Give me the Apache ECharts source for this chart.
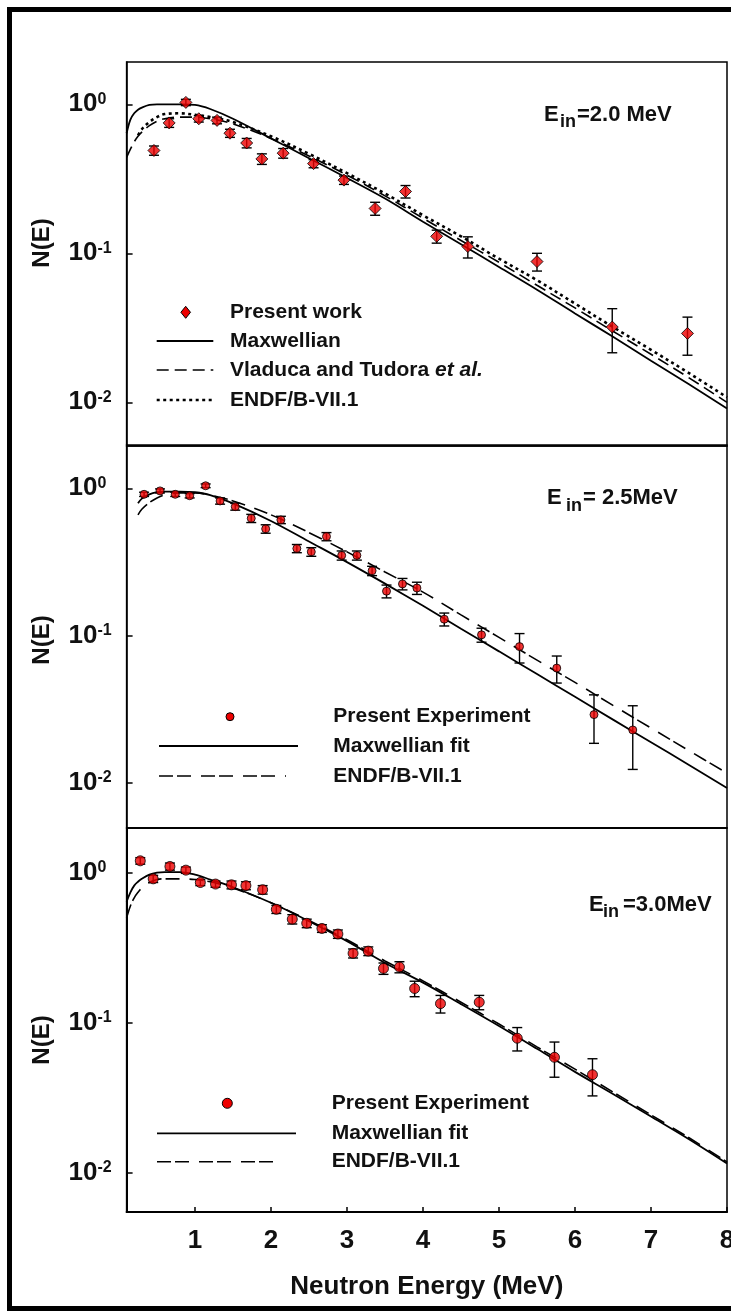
<!DOCTYPE html>
<html>
<head>
<meta charset="utf-8">
<script src="https://cdn.jsdelivr.net/npm/echarts@6/dist/echarts.min.js"></script>
<style>
html, body { margin: 0; padding: 0; background: #fff; }
#chart { width: 731px; height: 1311px; }
</style>
</head>
<body>
<div id="chart"></div>
<script>
// ---- Measured spectra (E in MeV, N(E) normalised) ----
// Ein = 2.0 MeV
const energies20 = [0.46, 0.66, 0.88, 1.05, 1.29, 1.46, 1.68, 1.88, 2.16, 2.56, 2.96, 3.37, 3.77, 4.18, 4.59, 5.50, 6.49, 7.48];
const values20   = [0.49, 0.75, 1.03, 0.80, 0.78, 0.64, 0.55, 0.43, 0.47, 0.40, 0.31, 0.20, 0.26, 0.13, 0.111, 0.088, 0.032, 0.029];
const errors20   = [0.035, 0.05, 0.05, 0.04, 0.04, 0.04, 0.04, 0.035, 0.035, 0.025, 0.02, 0.02, 0.025, 0.013, 0.018, 0.012, 0.0105, 0.0083];

// Ein = 2.5 MeV
const energies25 = [0.33, 0.54, 0.74, 0.93, 1.14, 1.33, 1.53, 1.74, 1.93, 2.13, 2.34, 2.53, 2.73, 2.93, 3.13, 3.33, 3.52, 3.73, 3.92, 4.28, 4.77, 5.27, 5.76, 6.25, 6.76];
const values25   = [0.91, 0.96, 0.91, 0.89, 1.04, 0.82, 0.75, 0.625, 0.53, 0.61, 0.39, 0.37, 0.47, 0.35, 0.35, 0.275, 0.20, 0.224, 0.21, 0.129, 0.101, 0.084, 0.060, 0.029, 0.0228];
const errors25   = [0.03, 0.03, 0.03, 0.03, 0.03, 0.04, 0.04, 0.04, 0.035, 0.035, 0.025, 0.025, 0.03, 0.025, 0.025, 0.02, 0.02, 0.02, 0.02, 0.013, 0.011, 0.019, 0.0125, 0.0105, 0.0105];

// Ein = 3.0 MeV
const energies30 = [0.28, 0.45, 0.67, 0.88, 1.07, 1.27, 1.48, 1.67, 1.89, 2.07, 2.28, 2.47, 2.67, 2.88, 3.08, 3.28, 3.48, 3.69, 3.89, 4.23, 4.74, 5.24, 5.73, 6.23];
const values30   = [1.20, 0.91, 1.10, 1.04, 0.86, 0.84, 0.83, 0.82, 0.77, 0.57, 0.49, 0.46, 0.425, 0.39, 0.29, 0.30, 0.23, 0.235, 0.169, 0.134, 0.137, 0.0788, 0.0588, 0.045];
const errors30   = [0.06, 0.05, 0.06, 0.05, 0.04, 0.04, 0.05, 0.05, 0.05, 0.035, 0.035, 0.03, 0.025, 0.025, 0.02, 0.02, 0.02, 0.02, 0.02, 0.018, 0.015, 0.014, 0.0155, 0.0125];

// ---- Model spectra tabulated on a common energy grid (null = not tabulated) ----
const curveEnergies = [0.1, 0.15, 0.2, 0.25, 0.3, 0.4, 0.5, 0.6, 0.8, 1.0, 1.2, 1.5, 2, 2.5, 3, 3.5, 4, 4.5, 5, 5.5, 6, 6.5, 7, 7.5, 8];

const maxwell20 = [0.64, 0.79, 0.87, 0.92, 0.95, 0.99, 1.0, 1.0, 1.0, 0.99, 0.93, 0.80, 0.59, 0.435, 0.32, 0.233, 0.163, 0.115, 0.081, 0.057, 0.0395, 0.0275, 0.019, 0.0132, 0.0091];
const vladuca20 = [0.44, 0.50, 0.56, 0.61, 0.65, 0.72, 0.77, 0.80, 0.82, 0.82, 0.80, 0.74, 0.59, 0.45, 0.335, 0.243, 0.172, 0.122, 0.087, 0.061, 0.043, 0.030, 0.021, 0.0146, 0.0100];
const endf20    = [null, null, null, 0.62, 0.68, 0.76, 0.82, 0.86, 0.87, 0.85, 0.82, 0.76, 0.61, 0.465, 0.345, 0.252, 0.18, 0.13, 0.092, 0.066, 0.046, 0.032, 0.0225, 0.0157, 0.0108];

const maxwell25 = [null, null, null, 0.79, 0.85, 0.91, 0.94, 0.95, 0.95, 0.94, 0.90, 0.79, 0.60, 0.435, 0.315, 0.225, 0.159, 0.111, 0.078, 0.0547, 0.0383, 0.0268, 0.0188, 0.0132, 0.0092];
const endf25    = [null, null, null, 0.66, 0.72, 0.80, 0.86, 0.90, 0.93, 0.93, 0.90, 0.82, 0.66, 0.50, 0.37, 0.27, 0.197, 0.138, 0.097, 0.068, 0.048, 0.0335, 0.0235, 0.0165, 0.0116];

const maxwell30 = [0.64, 0.74, 0.82, 0.87, 0.91, 0.97, 1.0, 1.01, 1.01, 0.97, 0.90, 0.80, 0.63, 0.475, 0.35, 0.25, 0.185, 0.133, 0.095, 0.067, 0.047, 0.0335, 0.0237, 0.0167, 0.0115];
const endf30    = [0.50, 0.60, 0.68, 0.74, 0.79, 0.86, 0.90, 0.91, 0.91, 0.90, 0.87, 0.79, 0.63, 0.48, 0.357, 0.258, 0.19, 0.137, 0.098, 0.069, 0.049, 0.0345, 0.0243, 0.0171, 0.0118];

// ---- Axis ticks and labels ----
const xTicks = [1, 2, 3, 4, 5, 6, 7, 8];
const yTicks = [0.01, 0.1, 1];

const FONT = '"Liberation Sans", Arial, Helvetica, sans-serif';
const INK = '#111';
const RED = '#ee0000';

// line styles shared by curves and their legend keys
const SOLID = { width: 1.8, dash: null };
const VT_DASH = { width: 1.6, dash: [12, 6] };
const ENDF_DOT = { width: 2.6, dash: [3, 3.5] };
const ENDF_DASH = { width: 1.6, dash: [14, 4, 14, 10] };

function pairs(xs, ys) {
  const out = [];
  xs.forEach((x, i) => { if (ys[i] != null) out.push([x, ys[i]]); });
  return out;
}
function barData(xs, ys, es) {
  return xs.map((x, i) => [x, ys[i] - es[i], ys[i] + es[i]]);
}
function renderErrorBar(params, api) {
  const x = api.value(0);
  const top = api.coord([x, api.value(2)]);
  const bot = api.coord([x, api.value(1)]);
  const cap = 5;
  const style = { stroke: '#000', lineWidth: 1.4, fill: null };
  return {
    type: 'group',
    children: [
      { type: 'line', shape: { x1: top[0], y1: top[1], x2: bot[0], y2: bot[1] }, style: style },
      { type: 'line', shape: { x1: top[0] - cap, y1: top[1], x2: top[0] + cap, y2: top[1] }, style: style },
      { type: 'line', shape: { x1: bot[0] - cap, y1: bot[1], x2: bot[0] + cap, y2: bot[1] }, style: style }
    ]
  };
}

// panel frames in pixels, y range per panel
const panels = [
  { top: 62, height: 384, min: 0.00509, max: 1.923 },
  { top: 445, height: 383, min: 0.00492, max: 1.968 },
  { top: 828, height: 384, min: 0.00547, max: 1.986 }
];

const grids = panels.map(p => ({
  left: 126.6, width: 600.4, top: p.top, height: p.height,
  outerBoundsMode: 'none', containLabel: false,
  show: true, borderColor: '#000', borderWidth: 1.5, backgroundColor: 'transparent'
}));

const xAxes = panels.map((p, i) => ({
  type: 'value', gridIndex: i, min: 0.1, max: 8,
  axisLine: { show: true, lineStyle: { color: '#000', width: i === 2 ? 2 : 1.5 } },
  splitLine: { show: false },
  axisTick: { show: i === 2, inside: true, length: 5, customValues: xTicks, lineStyle: { color: '#000', width: 1.5 } },
  axisLabel: { show: i === 2, customValues: xTicks, margin: 16, fontFamily: FONT, fontWeight: 'bold', fontSize: 26, color: INK },
  name: i === 2 ? 'Neutron Energy (MeV)' : '',
  nameLocation: 'middle', nameGap: 62,
  nameTextStyle: { fontFamily: FONT, fontWeight: 'bold', fontSize: 26, color: INK }
}));

const yAxes = panels.map((p, i) => ({
  type: 'log', logBase: 10, gridIndex: i, min: p.min, max: p.max,
  axisLine: { show: true, lineStyle: { color: '#000', width: i === 2 ? 2 : 1.5 } },
  splitLine: { show: false },
  minorTick: { show: false },
  axisTick: { show: true, inside: true, length: 6, customValues: yTicks, lineStyle: { color: '#000', width: 1.5 } },
  axisLabel: {
    show: true, customValues: yTicks, align: 'left', margin: 58,
    formatter: v => '{b|10}{s|' + Math.round(Math.log10(v)) + '}',
    rich: {
      b: { fontFamily: FONT, fontWeight: 'bold', fontSize: 26, lineHeight: 26, color: INK, verticalAlign: 'bottom' },
      s: { fontFamily: FONT, fontWeight: 'bold', fontSize: 16, lineHeight: 16, color: INK, verticalAlign: 'top' }
    }
  }
}));

function panelSeries(i, pts, lines) {
  const out = [];
  out.push({
    type: 'custom', xAxisIndex: i, yAxisIndex: i, clip: true,
    renderItem: renderErrorBar, encode: { x: 0, y: [1, 2] },
    data: barData(pts.e, pts.v, pts.err), z: 3, silent: true
  });
  out.push({
    type: 'scatter', name: pts.name, xAxisIndex: i, yAxisIndex: i,
    symbol: pts.symbol, symbolSize: pts.size,
    itemStyle: { color: RED, borderColor: '#000', borderWidth: 1 },
    data: pairs(pts.e, pts.v), z: 4
  });
  lines.forEach(l => {
    out.push({
      type: 'line', name: l.name, xAxisIndex: i, yAxisIndex: i,
      symbol: 'none', smooth: 0.35, clip: true,
      lineStyle: { color: '#000', width: l.style.width, type: l.style.dash || 'solid', cap: 'butt' },
      data: pairs(curveEnergies, l.data), z: 2
    });
  });
  return out;
}

const series = [].concat(
  panelSeries(0,
    { name: 'Present work', e: energies20, v: values20, err: errors20, symbol: 'diamond', size: 12 },
    [
      { name: 'Maxwellian', data: maxwell20, style: SOLID },
      { name: 'Vladuca and Tudora et al.', data: vladuca20, style: VT_DASH },
      { name: 'ENDF/B-VII.1', data: endf20, style: ENDF_DOT }
    ]),
  panelSeries(1,
    { name: 'Present Experiment', e: energies25, v: values25, err: errors25, symbol: 'circle', size: 8 },
    [
      { name: 'Maxwellian fit', data: maxwell25, style: SOLID },
      { name: 'ENDF/B-VII.1', data: endf25, style: ENDF_DASH }
    ]),
  panelSeries(2,
    { name: 'Present Experiment', e: energies30, v: values30, err: errors30, symbol: 'circle', size: 10 },
    [
      { name: 'Maxwellian fit', data: maxwell30, style: SOLID },
      { name: 'ENDF/B-VII.1', data: endf30, style: ENDF_DASH }
    ])
);

// ---- legend keys (drawn as graphic elements so each key keeps its own sample length) ----
function keyText(x, y, text) {
  return {
    type: 'text', x: x, y: y, z: 10,
    style: {
      text: text, fontFamily: FONT, fontWeight: 'bold', fontSize: 21, fill: INK,
      textAlign: 'left', textVerticalAlign: 'middle',
      rich: { i: { fontFamily: FONT, fontWeight: 'bold', fontStyle: 'italic', fontSize: 21, fill: INK } }
    }
  };
}
function keyLine(x1, x2, y, st) {
  return {
    type: 'line', z: 10, shape: { x1: x1, y1: y, x2: x2, y2: y },
    style: { stroke: '#000', lineWidth: st.width, lineDash: st.dash, lineCap: 'butt' }
  };
}
function keyDiamond(cx, cy, r) {
  return {
    type: 'polygon', z: 10,
    shape: { points: [[cx, cy - r], [cx + r * 0.8, cy], [cx, cy + r], [cx - r * 0.8, cy]] },
    style: { fill: RED, stroke: '#000', lineWidth: 1 }
  };
}
function keyDot(cx, cy, r) {
  return { type: 'circle', z: 10, shape: { cx: cx, cy: cy, r: r }, style: { fill: RED, stroke: '#000', lineWidth: 1 } };
}

const legendKeys = [
  keyDiamond(185.7, 312.3, 6), keyText(230, 312.3, 'Present work'),
  keyLine(156.7, 213.3, 341, SOLID), keyText(230, 341, 'Maxwellian'),
  keyLine(156.7, 213.3, 370, VT_DASH), keyText(230, 370, 'Vladuca and Tudora {i|et al.}'),
  keyLine(156.7, 213.3, 400, ENDF_DOT), keyText(230, 400, 'ENDF/B-VII.1'),

  keyDot(230, 716.7, 4), keyText(333.3, 716.7, 'Present Experiment'),
  keyLine(159, 298, 746, SOLID), keyText(333.3, 746, 'Maxwellian fit'),
  keyLine(159, 286, 776, ENDF_DASH), keyText(333.3, 776, 'ENDF/B-VII.1'),

  keyDot(227.3, 1103.3, 5), keyText(331.7, 1103.3, 'Present Experiment'),
  keyLine(157, 296, 1133.3, SOLID), keyText(331.7, 1133.3, 'Maxwellian fit'),
  keyLine(157, 283, 1161.7, ENDF_DASH), keyText(331.7, 1161.7, 'ENDF/B-VII.1')
];

// incident-energy tags: E, subscript "in", then the value
function tagPart(x, y, text, size) {
  return {
    type: 'text', x: x, y: y, z: 10,
    style: { text: text, fontFamily: FONT, fontWeight: 'bold', fontSize: size, fill: INK, textAlign: 'left', textVerticalAlign: 'middle' }
  };
}
function energyTag(xE, xIn, xRest, yCap, yBase, rest) {
  return [
    tagPart(xE, yCap, 'E', 22),
    tagPart(xIn, yBase - 6, 'in', 18),
    tagPart(xRest, yCap, rest, 22)
  ];
}

function yTitle(y) {
  return {
    type: 'text', x: 42, y: y, rotation: Math.PI / 2, z: 10,
    style: { text: 'N(E)', fontFamily: FONT, fontWeight: 'bold', fontSize: 24, fill: INK, textAlign: 'center', textVerticalAlign: 'middle' }
  };
}

const option = {
  animation: false,
  backgroundColor: '#fff',
  grid: grids,
  xAxis: xAxes,
  yAxis: yAxes,
  series: series,
  graphic: [
    // page frame
    { type: 'rect', shape: { x: 7, y: 7, width: 5, height: 1304 }, style: { fill: '#000' } },
    { type: 'rect', shape: { x: 7, y: 7, width: 724, height: 5 }, style: { fill: '#000' } },
    { type: 'rect', shape: { x: 7, y: 1306, width: 724, height: 5 }, style: { fill: '#000' } },
    yTitle(243), yTitle(640), yTitle(1040)
  ].concat(
    energyTag(544, 560, 577, 114.5, 128, '=2.0 MeV'),
    energyTag(547, 566, 583, 497.5, 512, '= 2.5MeV'),
    energyTag(589, 603, 623, 904.5, 918, '=3.0MeV'),
    legendKeys
  )
};

const chart = echarts.init(document.getElementById('chart'), null, { renderer: 'canvas' });
chart.setOption(option);
</script>
</body>
</html>
